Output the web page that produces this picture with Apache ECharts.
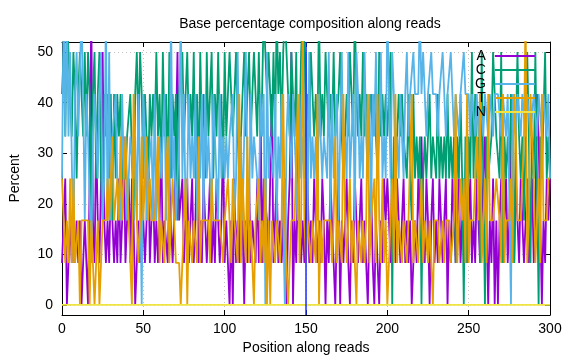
<!DOCTYPE html>
<html>
<head>
<meta charset="utf-8">
<script src="https://cdn.jsdelivr.net/npm/echarts@6/dist/echarts.min.js"></script>
<style>html,body{margin:0;padding:0;background:#fff}#c{width:576px;height:360px}</style>
</head>
<body>
<div id="c"></div>
<script>
// Positions along reads (0..300)
const positions = Array.from({length: 301}, (_, i) => i);

// Base A (%)
const baseA = [
8.3,16.7,25,0,8.3,16.7,8.3,16.7,8.3,16.7,
8.3,16.7,0,8.3,16.7,8.3,0,25,58.3,16.7,
8.3,33.3,16.7,8.3,25,50,16.7,8.3,16.7,8.3,
25,16.7,8.3,16.7,8.3,25,8.3,16.7,33.3,8.3,
16.7,25,8.3,25,16.7,0,8.3,16.7,8.3,25,
16.7,8.3,16.7,33.3,8.3,16.7,25,8.3,16.7,8.3,
16.7,33.3,8.3,16.7,16.7,8.3,25,16.7,8.3,16.7,
33.3,50,16.7,16.7,25,8.3,16.7,25,8.3,16.7,
25,8.3,16.7,33.3,8.3,16.7,8.3,25,16.7,8.3,
16.7,25,8.3,16.7,8.3,25,16.7,8.3,16.7,33.3,
8.3,16.7,8.3,0,16.7,0,25,8.3,16.7,8.3,
25,16.7,0,16.7,8.3,25,8.3,16.7,16.7,8.3,
25,8.3,41.7,8.3,25,25,16.7,8.3,25,41.7,
8.3,16.7,25,8.3,16.7,8.3,16.7,25,0,16.7,
25,50,0,16.7,8.3,25,16.7,8.3,16.7,8.3,
16.7,25,8.3,16.7,8.3,25,16.7,8.3,16.7,8.3,
25,16.7,0,16.7,8.3,25,16.7,8.3,0,16.7,
25,0,16.7,8.3,16.7,25,8.3,0,16.7,8.3,
25,16.7,8.3,16.7,25,8.3,16.7,8.3,0,16.7,
25,8.3,0,16.7,8.3,0,16.7,8.3,25,16.7,
25,16.7,8.3,25,16.7,8.3,25,16.7,8.3,16.7,
25,8.3,16.7,8.3,16.7,0,0,16.7,8.3,25,
16.7,33.3,16.7,8.3,25,16.7,0,16.7,25,8.3,
16.7,8.3,25,16.7,8.3,16.7,25,0,16.7,8.3,
25,16.7,8.3,16.7,25,8.3,16.7,25,16.7,8.3,
16.7,25,8.3,16.7,8.3,25,16.7,8.3,16.7,25,
33.3,16.7,0,16.7,8.3,25,0,16.7,0,16.7,
25,8.3,16.7,25,8.3,16.7,33.3,41.7,8.3,25,
16.7,8.3,25,16.7,8.3,16.7,25,8.3,16.7,25,
8.3,16.7,41.7,33.3,16.7,0,16.7,8.3,25,16.7,
25];

// Base C (%)
const baseC = [
41.7,50,33.3,58.3,50,41.7,33.3,50,41.7,25,
41.7,50,41.7,33.3,50,33.3,50,41.7,16.7,41.7,
50,25,41.7,50,25,16.7,41.7,33.3,41.7,25,
41.7,16.7,41.7,25,41.7,33.3,41.7,25,25,25,
33.3,33.3,41.7,41.7,16.7,41.7,50,33.3,50,41.7,
25,41.7,33.3,25,41.7,33.3,41.7,33.3,50,33.3,
41.7,25,50,33.3,41.7,25,50,25,41.7,33.3,
41.7,16.7,41.7,41.7,50,33.3,41.7,50,33.3,41.7,
33.3,50,25,41.7,25,50,33.3,41.7,25,50,
33.3,41.7,50,25,41.7,33.3,50,33.3,41.7,25,
50,33.3,41.7,50,41.7,33.3,41.7,50,33.3,25,
33.3,41.7,50,33.3,33.3,50,33.3,41.7,50,41.7,
33.3,50,33.3,41.7,58.3,50,41.7,50,41.7,33.3,
50,33.3,58.3,41.7,50,33.3,50,58.3,50,41.7,
33.3,50,41.7,33.3,50,16.7,33.3,50,58.3,50,
33.3,41.7,33.3,50,41.7,33.3,41.7,33.3,58.3,33.3,
41.7,33.3,50,41.7,33.3,41.7,33.3,50,33.3,33.3,
41.7,50,33.3,25,33.3,41.7,33.3,50,41.7,33.3,
58.3,41.7,33.3,41.7,33.3,50,33.3,41.7,33.3,33.3,
41.7,33.3,41.7,33.3,25,50,33.3,41.7,33.3,41.7,
33.3,41.7,50,0,33.3,25,33.3,41.7,33.3,41.7,
33.3,33.3,25,41.7,25,16.7,41.7,25,33.3,25,
33.3,0,25,33.3,25,33.3,41.7,25,33.3,33.3,
25,41.7,25,33.3,25,33.3,25,41.7,25,33.3,
25,33.3,8.3,33.3,25,41.7,25,0,33.3,8.3,
33.3,25,50,25,41.7,25,33.3,8.3,50,25,
0,33.3,25,25,33.3,50,41.7,33.3,33.3,25,
50,8.3,33.3,25,33.3,25,41.7,33.3,8.3,33.3,
50,33.3,25,33.3,16.7,33.3,50,33.3,8.3,33.3,
25,50,25,0,33.3,25,25,50,25,33.3,
25];

// Base G (%)
const baseG = [
25,58.3,33.3,58.3,33.3,50,50,8.3,41.7,50,
33.3,33.3,58.3,41.7,16.7,41.7,33.3,33.3,8.3,33.3,
41.7,33.3,25,41.7,50,16.7,25,58.3,16.7,50,
16.7,33.3,33.3,41.7,25,25,16.7,41.7,25,33.3,
16.7,25,33.3,33.3,25,33.3,16.7,41.7,25,0,
41.7,33.3,16.7,25,25,33.3,16.7,41.7,16.7,25,
33.3,25,25,41.7,16.7,33.3,16.7,58.3,25,33.3,
16.7,25,33.3,58.3,25,41.7,16.7,25,41.7,25,
33.3,25,41.7,16.7,33.3,25,41.7,16.7,41.7,25,
33.3,25,16.7,41.7,33.3,25,16.7,41.7,25,33.3,
25,33.3,25,33.3,33.3,41.7,16.7,25,50,25,
33.3,16.7,33.3,50,25,16.7,41.7,25,33.3,33.3,
25,16.7,41.7,33.3,41.7,0,50,25,33.3,33.3,
25,41.7,16.7,33.3,25,41.7,16.7,0,33.3,41.7,
41.7,25,41.7,33.3,25,16.7,41.7,25,33.3,25,
50,16.7,50,25,33.3,25,33.3,16.7,41.7,41.7,
25,33.3,33.3,25,50,16.7,41.7,25,33.3,41.7,
16.7,33.3,50,25,33.3,25,50,25,33.3,41.7,
16.7,50,41.7,25,33.3,25,50,33.3,25,41.7,
16.7,41.7,33.3,50,25,33.3,50,25,33.3,25,
58.3,41.7,25,50,41.7,25,33.3,25,41.7,33.3,
25,41.7,50,33.3,41.7,41.7,50,41.7,41.7,41.7,
58.3,41.7,50,41.7,33.3,41.7,41.7,50,41.7,41.7,
41.7,33.3,41.7,41.7,50,41.7,33.3,41.7,41.7,50,
41.7,33.3,41.7,41.7,33.3,41.7,41.7,50,41.7,41.7,
41.7,33.3,41.7,41.7,33.3,41.7,33.3,41.7,41.7,33.3,
41.7,41.7,33.3,41.7,41.7,33.3,41.7,41.7,41.7,41.7,
33.3,41.7,41.7,33.3,41.7,41.7,0,41.7,41.7,33.3,
41.7,41.7,33.3,41.7,41.7,33.3,41.7,41.7,33.3,33.3,
41.7,41.7,33.3,41.7,41.7,33.3,41.7,41.7,33.3,41.7,
25];

// Base T (%)
const baseT = [
25,16.7,8.3,16.7,8.3,25,8.3,25,8.3,8.3,
16.7,0,16.7,16.7,16.7,16.7,16.7,0,16.7,8.3,
0,8.3,16.7,0,0,16.7,16.7,16.7,25,16.7,
16.7,33.3,16.7,16.7,25,16.7,33.3,16.7,16.7,33.3,
33.3,16.7,16.7,0,41.7,25,25,8.3,16.7,33.3,
16.7,16.7,33.3,16.7,25,16.7,16.7,16.7,16.7,33.3,
8.3,16.7,16.7,8.3,25,33.3,8.3,16.7,25,16.7,
8.3,8.3,8.3,0,0,16.7,25,0,16.7,16.7,
8.3,16.7,16.7,8.3,33.3,8.3,16.7,16.7,16.7,16.7,
16.7,8.3,25,16.7,16.7,16.7,16.7,16.7,16.7,8.3,
16.7,16.7,25,16.7,8.3,25,16.7,16.7,8.3,41.7,
8.3,25,16.7,8.3,33.3,8.3,16.7,16.7,0,16.7,
16.7,25,8.3,16.7,8.3,25,0,16.7,0,16.7,
16.7,8.3,16.7,16.7,8.3,16.7,41.7,16.7,16.7,0,
0,16.7,16.7,16.7,16.7,41.7,8.3,16.7,58.3,16.7,
8.3,16.7,16.7,8.3,16.7,16.7,8.3,41.7,0,16.7,
8.3,16.7,16.7,16.7,16.7,16.7,8.3,16.7,33.3,8.3,
16.7,16.7,8.3,41.7,16.7,8.3,16.7,25,8.3,16.7,
16.7,0,16.7,16.7,8.3,16.7,8.3,16.7,41.7,8.3,
16.7,16.7,25,8.3,41.7,16.7,8.3,25,8.3,16.7,
0,0,16.7,25,8.3,41.7,8.3,16.7,16.7,8.3,
16.7,16.7,8.3,16.7,16.7,41.7,8.3,16.7,16.7,8.3,
16.7,25,8.3,16.7,16.7,8.3,16.7,8.3,0,16.7,
16.7,16.7,8.3,8.3,16.7,8.3,16.7,16.7,16.7,8.3,
8.3,16.7,41.7,8.3,16.7,25,16.7,25,8.3,41.7,
8.3,16.7,16.7,16.7,16.7,33.3,16.7,41.7,8.3,16.7,
25,8.3,41.7,16.7,16.7,16.7,16.7,25,25,16.7,
8.3,41.7,8.3,16.7,16.7,16.7,25,8.3,41.7,33.3,
16.7,16.7,16.7,25,33.3,58.3,8.3,16.7,41.7,33.3,
25,8.3,16.7,25,8.3,41.7,16.7,16.7,16.7,25,
25];

// Base N (%)
const baseN = [
0,0,0,0,0,0,0,0,0,0,0,0,0,0,0,0,0,0,0,0,0,0,0,0,0,0,0,0,0,0,0,0,0,0,0,0,0,0,0,0,0,0,0,0,0,0,0,0,0,0,
0,0,0,0,0,0,0,0,0,0,0,0,0,0,0,0,0,0,0,0,0,0,0,0,0,0,0,0,0,0,0,0,0,0,0,0,0,0,0,0,0,0,0,0,0,0,0,0,0,0,
0,0,0,0,0,0,0,0,0,0,0,0,0,0,0,0,0,0,0,0,0,0,0,0,0,0,0,0,0,0,0,0,0,0,0,0,0,0,0,0,0,0,0,0,0,0,0,0,0,0,
0,0,0,0,0,0,0,0,0,0,0,0,0,0,0,0,0,0,0,0,0,0,0,0,0,0,0,0,0,0,0,0,0,0,0,0,0,0,0,0,0,0,0,0,0,0,0,0,0,0,
0,0,0,0,0,0,0,0,0,0,0,0,0,0,0,0,0,0,0,0,0,0,0,0,0,0,0,0,0,0,0,0,0,0,0,0,0,0,0,0,0,0,0,0,0,0,0,0,0,0,
0,0,0,0,0,0,0,0,0,0,0,0,0,0,0,0,0,0,0,0,0,0,0,0,0,0,0,0,0,0,0,0,0,0,0,0,0,0,0,0,0,0,0,0,0,0,0,0,0,0,
0];

const xTicks = [0, 50, 100, 150, 200, 250, 300];
const yTicks = [0, 10, 20, 30, 40, 50];
// vertical marker at position 150, spanning the y range
const markerX = [150, 150];
const markerY = [-2, 52];

const FONT = '"Liberation Sans", Arial, sans-serif';
const FS = 14;
const names = ['A', 'C', 'G', 'T', 'N'];
const colors = ['#9400d3', '#009e73', '#56b4e9', '#e69f00', '#f0e442'];
const values = [baseA, baseC, baseG, baseT, baseN];

const chart = echarts.init(document.getElementById('c'), null, {renderer: 'canvas'});

const gridLine = {show: true, lineStyle: {color: '#b0b0b0', width: 0.8, type: [1, 3]}};
const tick = {show: true, inside: true, length: 5, lineStyle: {color: '#000', width: 1}};
const line = {show: true, onZero: false, lineStyle: {color: '#000', width: 1}};

const series = names.map((n, k) => ({
  name: n,
  type: 'line',
  xAxisIndex: 0,
  yAxisIndex: 0,
  showSymbol: false,
  symbol: 'none',
  animation: false,
  clip: true,
  z: 2 + k,
  lineStyle: {color: colors[k], width: 1.8},
  itemStyle: {color: colors[k]},
  data: positions.map((x, i) => [x, values[k][i]])
}));
series.push({
  name: 'marker',
  type: 'line',
  z: 20,
  showSymbol: false,
  symbol: 'none',
  animation: false,
  silent: true,
  clip: true,
  lineStyle: {color: '#1a2cff', width: 1.5},
  data: markerX.map((x, i) => [x, markerY[i]])
});

chart.setOption({
  backgroundColor: '#fff',
  animation: false,
  textStyle: {fontFamily: FONT},
  title: {
    text: 'Base percentage composition along reads',
    left: 305, top: 12, textAlign: 'center',
    textStyle: {fontFamily: FONT, fontSize: FS, fontWeight: 'normal', color: '#000'}
  },
  legend: {
    orient: 'vertical',
    left: 470, top: 44,
    align: 'right',
    icon: 'rect',
    itemWidth: 40, itemHeight: 2,
    itemGap: 0,
    z: 30,
    selectedMode: false,
    textStyle: {fontFamily: FONT, fontSize: FS, color: '#000', lineHeight: 14, padding: [0, 4, 0, 0]},
    data: names
  },
  grid: {left: 61, right: 26, top: 42, bottom: 45, containLabel: false},
  xAxis: [{
    type: 'value', min: 0, max: 300, interval: 50, position: 'bottom',
    name: 'Position along reads', nameLocation: 'middle', nameGap: 26,
    nameTextStyle: {fontFamily: FONT, fontSize: FS, color: '#000'},
    axisLine: line, axisTick: tick, splitLine: gridLine,
    axisLabel: {fontFamily: FONT, fontSize: FS, color: '#000', margin: 7,
      formatter: v => xTicks.includes(v) ? String(v) : ''}
  }, {
    type: 'value', min: 0, max: 300, interval: 50, position: 'top',
    axisLine: line, axisTick: tick, splitLine: {show: false}, axisLabel: {show: false}
  }],
  yAxis: [{
    type: 'value', min: -2, max: 52, position: 'left',
    name: 'Percent', nameLocation: 'middle', nameGap: 40, nameRotate: 90,
    nameTextStyle: {fontFamily: FONT, fontSize: FS, color: '#000'},
    axisLine: line, axisTick: tick, splitLine: gridLine,
    axisLabel: {fontFamily: FONT, fontSize: FS, color: '#000', margin: 9,
      showMinLabel: false, showMaxLabel: false,
      formatter: v => yTicks.includes(v) ? String(v) : ''}
  }, {
    type: 'value', min: -2, max: 52, position: 'right',
    axisLine: line, axisTick: tick, splitLine: {show: false}, axisLabel: {show: false}
  }],
  series: series
});
</script>
</body>
</html>
